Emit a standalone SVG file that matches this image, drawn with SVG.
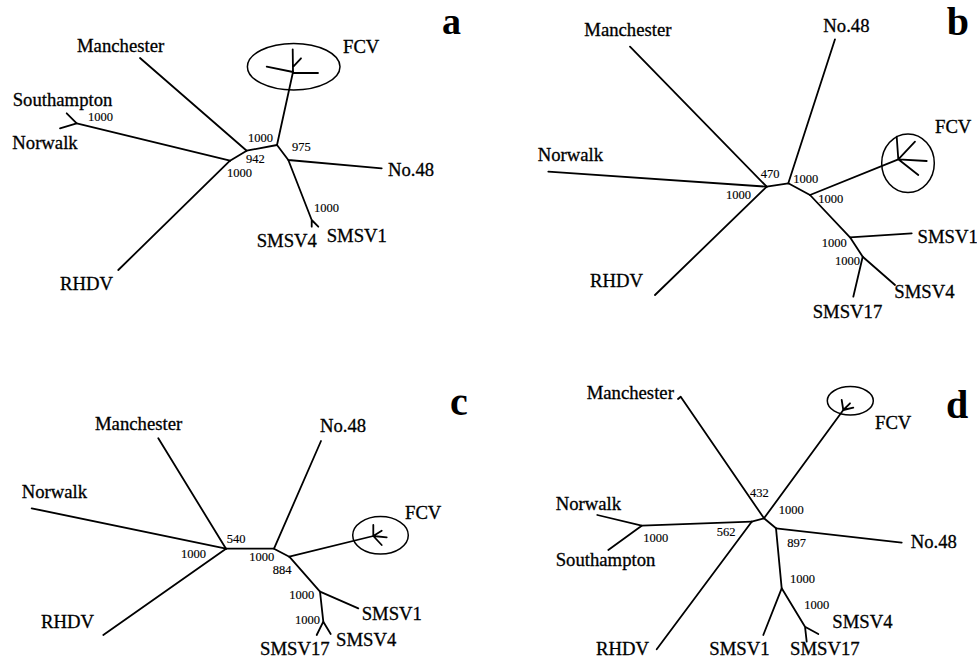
<svg xmlns="http://www.w3.org/2000/svg" width="977" height="661" viewBox="0 0 977 661">
<style>
.bg{fill:#fff}
.br{fill:none;stroke:#000;stroke-width:1.8;stroke-linecap:round;stroke-linejoin:round}
.cl{fill:none;stroke:#000;stroke-width:1.5}
.tx{font-family:"Liberation Serif","Times New Roman",serif;font-size:18.7px;fill:#000;stroke:#000;stroke-width:0.3}
.bs{font-family:"Liberation Serif","Times New Roman",serif;font-size:12.5px;fill:#000;stroke:#000;stroke-width:0.15}
.pl{font-family:"Liberation Serif","Times New Roman",serif;font-size:40px;font-weight:bold;fill:#000}
</style>
<rect class="bg" x="0" y="0" width="977" height="661"/>

<!-- Panel a -->
<g id="panel-a">
  <text class="pl" x="442" y="34" style="font-size:38px">a</text>
  <g id="a-connectors">
    <path class="br" d="M140,58 L246.7,150.7"/>
    <path class="br" d="M277,145 L246.7,150.7 L230,160.7"/>
    <path class="br" d="M76.7,123.3 L230,160.7"/>
    <path class="br" d="M66.7,113.3 L76.7,123.3 L60,128.3"/>
    <path class="br" d="M230,160.7 L118.3,270"/>
    <path class="br" d="M277,145 L293,72"/>
    <path class="br" d="M293,72 L292.7,49.3 M293.3,66.7 L301,58.3 M293,72 L266.7,66.7 M293,73 L318,73"/>
    <path class="br" d="M277,145 L288.3,160 L381.7,168.3"/>
    <path class="br" d="M288.3,160 L311.7,220 L311.7,226.7 M311.7,220 L318.3,226.7"/>
    <text class="bs" x="88" y="120.7">1000</text>
    <text class="bs" x="248" y="141.7">1000</text>
    <text class="bs" x="292" y="150.7">975</text>
    <text class="bs" x="246" y="163.3">942</text>
    <text class="bs" x="227" y="176.7">1000</text>
    <text class="bs" x="314" y="212.3">1000</text>
  </g>
  <g id="a-manchester"><text class="tx" x="77" y="52">Manchester</text></g>
  <g id="a-fcv"><ellipse class="cl" cx="293.7" cy="66.7" rx="46.3" ry="23.3"/><text class="tx" x="343" y="53">FCV</text></g>
  <g id="a-southampton"><text class="tx" x="12.7" y="106">Southampton</text></g>
  <g id="a-norwalk"><text class="tx" x="12.3" y="149">Norwalk</text></g>
  <g id="a-no48"><text class="tx" x="388" y="176">No.48</text></g>
  <g id="a-smsv4"><text class="tx" x="256.7" y="246.7">SMSV4</text></g>
  <g id="a-smsv1"><text class="tx" x="326.7" y="242.3">SMSV1</text></g>
  <g id="a-rhdv"><text class="tx" x="60" y="290">RHDV</text></g>
</g>

<!-- Panel b -->
<g id="panel-b">
  <text class="pl" x="946.7" y="35">b</text>
  <g id="b-connectors">
    <path class="br" d="M630,46.7 L766.7,186.7"/>
    <path class="br" d="M835,39.3 L788.3,183.3"/>
    <path class="br" d="M548.3,171.7 L766.7,186.7"/>
    <path class="br" d="M655,295 L766.7,186.7"/>
    <path class="br" d="M766.7,186.7 L788.3,183.3 L810,195"/>
    <path class="br" d="M810,195 L898.3,159.3"/>
    <path class="br" d="M898.3,159.3 L896.7,136.7 M898.3,159.3 L915,141.7 M898.3,159.3 L926.7,161 M898.3,159.3 L918.3,175"/>
    <path class="br" d="M810,195 L850,237.3 L862.7,256.7 L895,285"/>
    <path class="br" d="M850,237.3 L911.7,233.3"/>
    <path class="br" d="M862.7,256.7 L853.3,296.7"/>
    <text class="bs" x="760.7" y="178.3">470</text>
    <text class="bs" x="793.3" y="182.7">1000</text>
    <text class="bs" x="726" y="199">1000</text>
    <text class="bs" x="818.3" y="202.7">1000</text>
    <text class="bs" x="821.7" y="246.7">1000</text>
    <text class="bs" x="835" y="265">1000</text>
  </g>
  <g id="b-manchester"><text class="tx" x="584.3" y="36">Manchester</text></g>
  <g id="b-no48"><text class="tx" x="823.3" y="32.3">No.48</text></g>
  <g id="b-norwalk"><text class="tx" x="537.7" y="161">Norwalk</text></g>
  <g id="b-rhdv"><text class="tx" x="590" y="287.3">RHDV</text></g>
  <g id="b-fcv"><ellipse class="cl" cx="908" cy="163.3" rx="26.3" ry="29.3"/><text class="tx" x="935" y="132.7">FCV</text></g>
  <g id="b-smsv1"><text class="tx" x="917.5" y="243.3">SMSV1</text></g>
  <g id="b-smsv4"><text class="tx" x="894.3" y="297.7">SMSV4</text></g>
  <g id="b-smsv17"><text class="tx" x="812.7" y="318.3">SMSV17</text></g>
</g>

<!-- Panel c -->
<g id="panel-c">
  <text class="pl" x="450" y="415">c</text>
  <g id="c-connectors">
    <path class="br" d="M158.3,438.3 L226,548.7"/>
    <path class="br" d="M321,441 L274,548.7"/>
    <path class="br" d="M31.7,508.3 L226,548.7"/>
    <path class="br" d="M103.3,635 L226,548.7"/>
    <path class="br" d="M226,548.7 L274,548.7 L289.3,556.7"/>
    <path class="br" d="M289.3,556.7 L373.3,536"/>
    <path class="br" d="M373.3,536 L373.3,525 M373.3,536 L381.7,530.7 M373.3,536 L386.7,537.3 M373.3,536 L381.7,545"/>
    <path class="br" d="M289.3,556.7 L320,591.7 L323.3,621.7"/>
    <path class="br" d="M320,591.7 L358.3,608.3"/>
    <path class="br" d="M323.3,621.7 L316.7,635 M323.3,621.7 L330.7,634"/>
    <text class="bs" x="226.7" y="543.3">540</text>
    <text class="bs" x="181" y="557.7">1000</text>
    <text class="bs" x="249.3" y="561">1000</text>
    <text class="bs" x="272.7" y="574.3">884</text>
    <text class="bs" x="289.3" y="599.3">1000</text>
    <text class="bs" x="295" y="624">1000</text>
  </g>
  <g id="c-manchester"><text class="tx" x="95" y="430">Manchester</text></g>
  <g id="c-no48"><text class="tx" x="320" y="432.3">No.48</text></g>
  <g id="c-norwalk"><text class="tx" x="21.7" y="497.7">Norwalk</text></g>
  <g id="c-rhdv"><text class="tx" x="41" y="627.7">RHDV</text></g>
  <g id="c-fcv"><ellipse class="cl" cx="380.5" cy="535.3" rx="27.8" ry="18.7"/><text class="tx" x="405" y="519">FCV</text></g>
  <g id="c-smsv1"><text class="tx" x="361.7" y="620">SMSV1</text></g>
  <g id="c-smsv4"><text class="tx" x="336" y="646">SMSV4</text></g>
  <g id="c-smsv17"><text class="tx" x="260" y="655">SMSV17</text></g>
</g>

<!-- Panel d -->
<g id="panel-d">
  <text class="pl" x="946" y="418.3">d</text>
  <g id="d-connectors">
    <path class="br" d="M678,399 L680.7,396.7 L764,518.3"/>
    <path class="br" d="M764,518.3 L843.3,410"/>
    <path class="br" d="M843.3,410 L841.7,400 M843.3,410 L850,403.3 M843.3,410 L853.3,407.7"/>
    <path class="br" d="M751.7,521.7 L764,518.3 L776,528.3"/>
    <path class="br" d="M776,528.3 L901.7,542.7"/>
    <path class="br" d="M751.7,521.7 L641.7,525.7"/>
    <path class="br" d="M597.3,515 L641.7,525.7 L608.3,550"/>
    <path class="br" d="M751.7,521.7 L656.7,649.3"/>
    <path class="br" d="M776,528.3 L781.7,588.3 L763.3,635"/>
    <path class="br" d="M781.7,588.3 L805,626.7 L818.3,634 M805,626.7 L806.7,641.7"/>
    <text class="bs" x="750" y="496.7">432</text>
    <text class="bs" x="778.7" y="514">1000</text>
    <text class="bs" x="716.7" y="536">562</text>
    <text class="bs" x="643.3" y="541.7">1000</text>
    <text class="bs" x="787.3" y="546.7">897</text>
    <text class="bs" x="790" y="583.3">1000</text>
    <text class="bs" x="804.3" y="609.3">1000</text>
  </g>
  <g id="d-manchester"><text class="tx" x="586.7" y="399.3">Manchester</text></g>
  <g id="d-fcv"><ellipse class="cl" cx="850.3" cy="400.8" rx="23" ry="14.2"/><text class="tx" x="875" y="429.3">FCV</text></g>
  <g id="d-no48"><text class="tx" x="910.7" y="548.3">No.48</text></g>
  <g id="d-norwalk"><text class="tx" x="555.7" y="510">Norwalk</text></g>
  <g id="d-southampton"><text class="tx" x="555.7" y="565.7">Southampton</text></g>
  <g id="d-rhdv"><text class="tx" x="596" y="655">RHDV</text></g>
  <g id="d-smsv1"><text class="tx" x="709.3" y="655">SMSV1</text></g>
  <g id="d-smsv17"><text class="tx" x="790" y="655">SMSV17</text></g>
  <g id="d-smsv4"><text class="tx" x="832.3" y="627.7">SMSV4</text></g>
</g>
</svg>
